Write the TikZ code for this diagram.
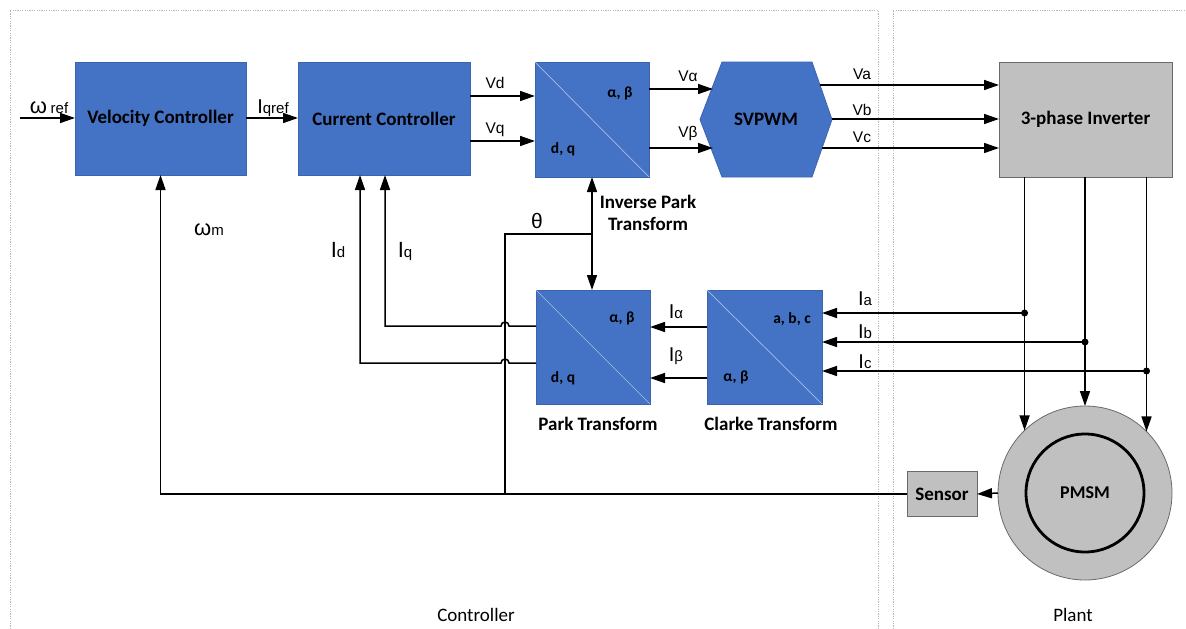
\documentclass[tikz,border=0pt]{standalone}
\usepackage{fontspec}
\setmainfont{Carlito}
\newfontfamily\arialf{Liberation Sans}
\usetikzlibrary{arrows.meta,calc}
\definecolor{blk}{HTML}{4472C4}
\definecolor{blkb}{HTML}{3B64AE}
\definecolor{diagc}{HTML}{A9BFE8}
\definecolor{gry}{HTML}{C0C0C0}
\definecolor{gryb}{HTML}{6A6A6A}
\definecolor{framec}{HTML}{B8B8B8}
\tikzset{
  bblock/.style={draw=blkb, fill=blk, line width=0.8pt, inner sep=0pt, outer sep=0pt,
    font=\fontsize{19}{22}\selectfont\bfseries, text=black},
  gblock/.style={draw=gryb, fill=gry, line width=0.8pt, inner sep=0pt, outer sep=0pt,
    font=\fontsize{19}{22}\selectfont\bfseries, text=black},
  diagl/.style={draw=diagc, line width=0.7pt},
  corner/.style={font=\fontsize{15.5}{17}\selectfont\bfseries, inner sep=0pt},
  caplbl/.style={font=\fontsize{19}{22}\selectfont\bfseries, inner sep=0pt, align=center},
  region/.style={font=\fontsize{19}{21}\selectfont, inner sep=0pt},
  sig/.style={font=\arialf\fontsize{15.5}{17}\selectfont, inner sep=0pt, anchor=base},
  bigsig/.style={font=\arialf\fontsize{20}{22}\selectfont, inner sep=0pt, anchor=base},
  wire/.style={line width=1.5pt, draw=black},
  arr/.style={wire, -{Triangle[length=15pt,width=10pt]}},
  darr/.style={wire, {Triangle[length=15pt,width=10pt]}-{Triangle[length=15pt,width=10pt]}},
  frame/.style={draw=framec, line width=0.9pt, dash pattern=on 1.2pt off 1.2pt},
  dot/.style={circle, fill=black, inner sep=0pt, minimum size=7pt}
}
\newcommand{\subs}[1]{{\fontsize{15}{16}\selectfont #1}}
\begin{document}
\begin{tikzpicture}[x=1pt,y=-1pt]
\useasboundingbox (0,0) rectangle (1186,629);
\fill[white] (0,0) rectangle (1186,629);
% region frames
\draw[frame] (10,629) -- (10,10) -- (878,10) -- (878,629);
\draw[frame] (893,629) -- (893,10) -- (1186,10);
\node[region] (lctrl) at (476,615) {Controller};
\node[region] (lplant) at (1073,615) {Plant};

% blocks
\node[bblock, minimum width=171, minimum height=113] (vc) at (160.5,118.5) {Velocity Controller};
\node[bblock, minimum width=172, minimum height=113] (cc) at (384,118.5) {Current Controller};
\node[bblock, minimum width=114, minimum height=115] (ipark) at (592,119.5) {};
\node[bblock, minimum width=114, minimum height=114] (park) at (593,347) {};
\node[bblock, minimum width=115, minimum height=114] (clarke) at (764.5,347) {};
\draw[diagl] (ipark.north west) -- (ipark.south east);
\draw[diagl] (park.north west) -- (park.south east);
\draw[diagl] (clarke.north west) -- (clarke.south east);
\node[corner] (ip1) at (620,93) {α, β};
\node[corner] (ip2) at (563,149) {d, q};
\node[corner] (pk1) at (622,318) {α, β};
\node[corner] (pk2) at (563,378) {d, q};
\node[corner] (ck1) at (792,319) {a, b, c};
\node[corner] (ck2) at (736,377) {α, β};
\node[caplbl] (lipark) at (648,213) {Inverse Park\\Transform};
\node[caplbl] (lpark) at (598,424) {Park Transform};
\node[caplbl] (lclarke) at (771,424) {Clarke Transform};

% SVPWM hexagon
\coordinate (hL) at (700,119.5);
\coordinate (hTL) at (722,62);
\coordinate (hTR) at (812,62);
\coordinate (hR) at (832,119.5);
\coordinate (hBR) at (812,177);
\coordinate (hBL) at (722,177);
\filldraw[draw=blkb, fill=blk, line width=0.8pt] (hL) -- (hTL) -- (hTR) -- (hR) -- (hBR) -- (hBL) -- cycle;
\node[font=\fontsize{19}{22}\selectfont\bfseries, inner sep=0pt] (svpwm) at (766,119.5) {SVPWM};
\coordinate (sIa) at (713,89);
\coordinate (sIb) at (713,148);
\coordinate (sOa) at (820,85);
\coordinate (sOb) at (832,119);
\coordinate (sOc) at (822,148);

% plant
\node[gblock, minimum width=173, minimum height=115] (inv) at (1085.5,119.5) {3-phase Inverter};
\node[gblock, minimum width=70, minimum height=45] (sensor) at (942,494) {Sensor};
\node[circle, draw=gryb, fill=gry, line width=0.8pt, minimum size=174, inner sep=0pt, outer sep=0pt] (pmsm) at (1085,493) {};
\draw[line width=2.8pt] (pmsm.center) circle[radius=59];
\node[font=\fontsize{18}{20}\selectfont\bfseries, inner sep=0pt] (lpmsm) at (pmsm.center) {PMSM};

% forward path
\coordinate (win) at (20,118);
\draw[arr] (win) -- (vc.west |- win);
\draw[arr] (vc.east |- 0,118) -- (cc.west |- 0,118);
\draw[arr] (cc.east |- 0,96) -- (ipark.west |- 0,96);
\draw[arr] (cc.east |- 0,141) -- (ipark.west |- 0,141);
\draw[arr] (ipark.east |- sIa) -- (sIa);
\draw[arr] (ipark.east |- sIb) -- (sIb);
\draw[arr] (sOa) -- (inv.west |- sOa);
\draw[arr] (sOb) -- (inv.west |- sOb);
\draw[arr] (sOc) -- (inv.west |- sOc);

% inverter to motor
\draw[arr] (inv.south -| pmsm.134.5) -- (pmsm.134.5);
\draw[arr] (inv.south -| pmsm.north) -- (pmsm.north);
\draw[arr] (inv.south -| pmsm.45.5) -- (pmsm.45.5);
\node[dot] (da) at (pmsm.134.5 |- 0,313) {};
\node[dot] (db) at (pmsm.north |- 0,342) {};
\node[dot] (dc) at (pmsm.45.5 |- 0,371) {};
\draw[arr] (da.center) -- (clarke.east |- da);
\draw[arr] (db.center) -- (clarke.east |- db);
\draw[arr] (dc.center) -- (clarke.east |- dc);

% clarke to park
\draw[arr] (clarke.west |- 0,327) -- (park.east |- 0,327);
\draw[arr] (clarke.west |- 0,378) -- (park.east |- 0,378);

% sensor feedback
\draw[arr] (pmsm.west) -- (sensor.east);
\draw[arr] (sensor.west) -- (vc.south |- sensor.west) -- (vc.south);
\coordinate (thb) at (505,493);
\coordinate (tht) at (505,234);
\draw[wire] (thb) -- (tht) -- (ipark.south |- tht);
\draw[darr] (ipark.south) -- (ipark.south |- park.north);

% park outputs with jumps
\draw[arr] (park.west |- 0,326) -- (509,326) arc[start angle=0, end angle=-180, radius=4] -- (385,326) -- (cc.south -| 385,0);
\draw[arr] (park.west |- 0,363) -- (509,363) arc[start angle=0, end angle=-180, radius=4] -- (360,363) -- (cc.south -| 360,0);

% signal labels
\node[bigsig, font=\arialf\fontsize{22}{24}\selectfont] (lwref) at (49,113) {ω\,\subs{ref}};
\node[bigsig] (liq) at (273,113) {I\subs{qref}};
\node[sig] (lvd) at (495,88) {Vd};
\node[sig] (lvq) at (495,133) {Vq};
\node[sig] (lva) at (688,81) {Vα};
\node[sig] (lvb) at (688,137) {Vβ};
\node[sig] (lVa) at (862,79) {Va};
\node[sig] (lVb) at (862,115) {Vb};
\node[sig] (lVc) at (862,142) {Vc};
\node[bigsig] (lIa) at (865,305) {I\subs{a}};
\node[bigsig] (lIb) at (865,338) {I\subs{b}};
\node[bigsig] (lIc) at (865,368) {I\subs{c}};
\node[bigsig] (lIal) at (676,318) {I\subs{α}};
\node[bigsig] (lIbe) at (676,361) {I\subs{β}};
\node[bigsig, font=\arialf\fontsize{21}{23}\selectfont] (lth) at (537,228) {θ};
\node[bigsig, font=\arialf\fontsize{22}{24}\selectfont] (lId) at (338,257) {I\subs{d}};
\node[bigsig, font=\arialf\fontsize{22}{24}\selectfont] (lIq) at (405,257) {I\subs{q}};
\node[bigsig, font=\arialf\fontsize{22}{24}\selectfont] (lwm) at (209,235) {ω\subs{m}};
\end{tikzpicture}
\end{document}
